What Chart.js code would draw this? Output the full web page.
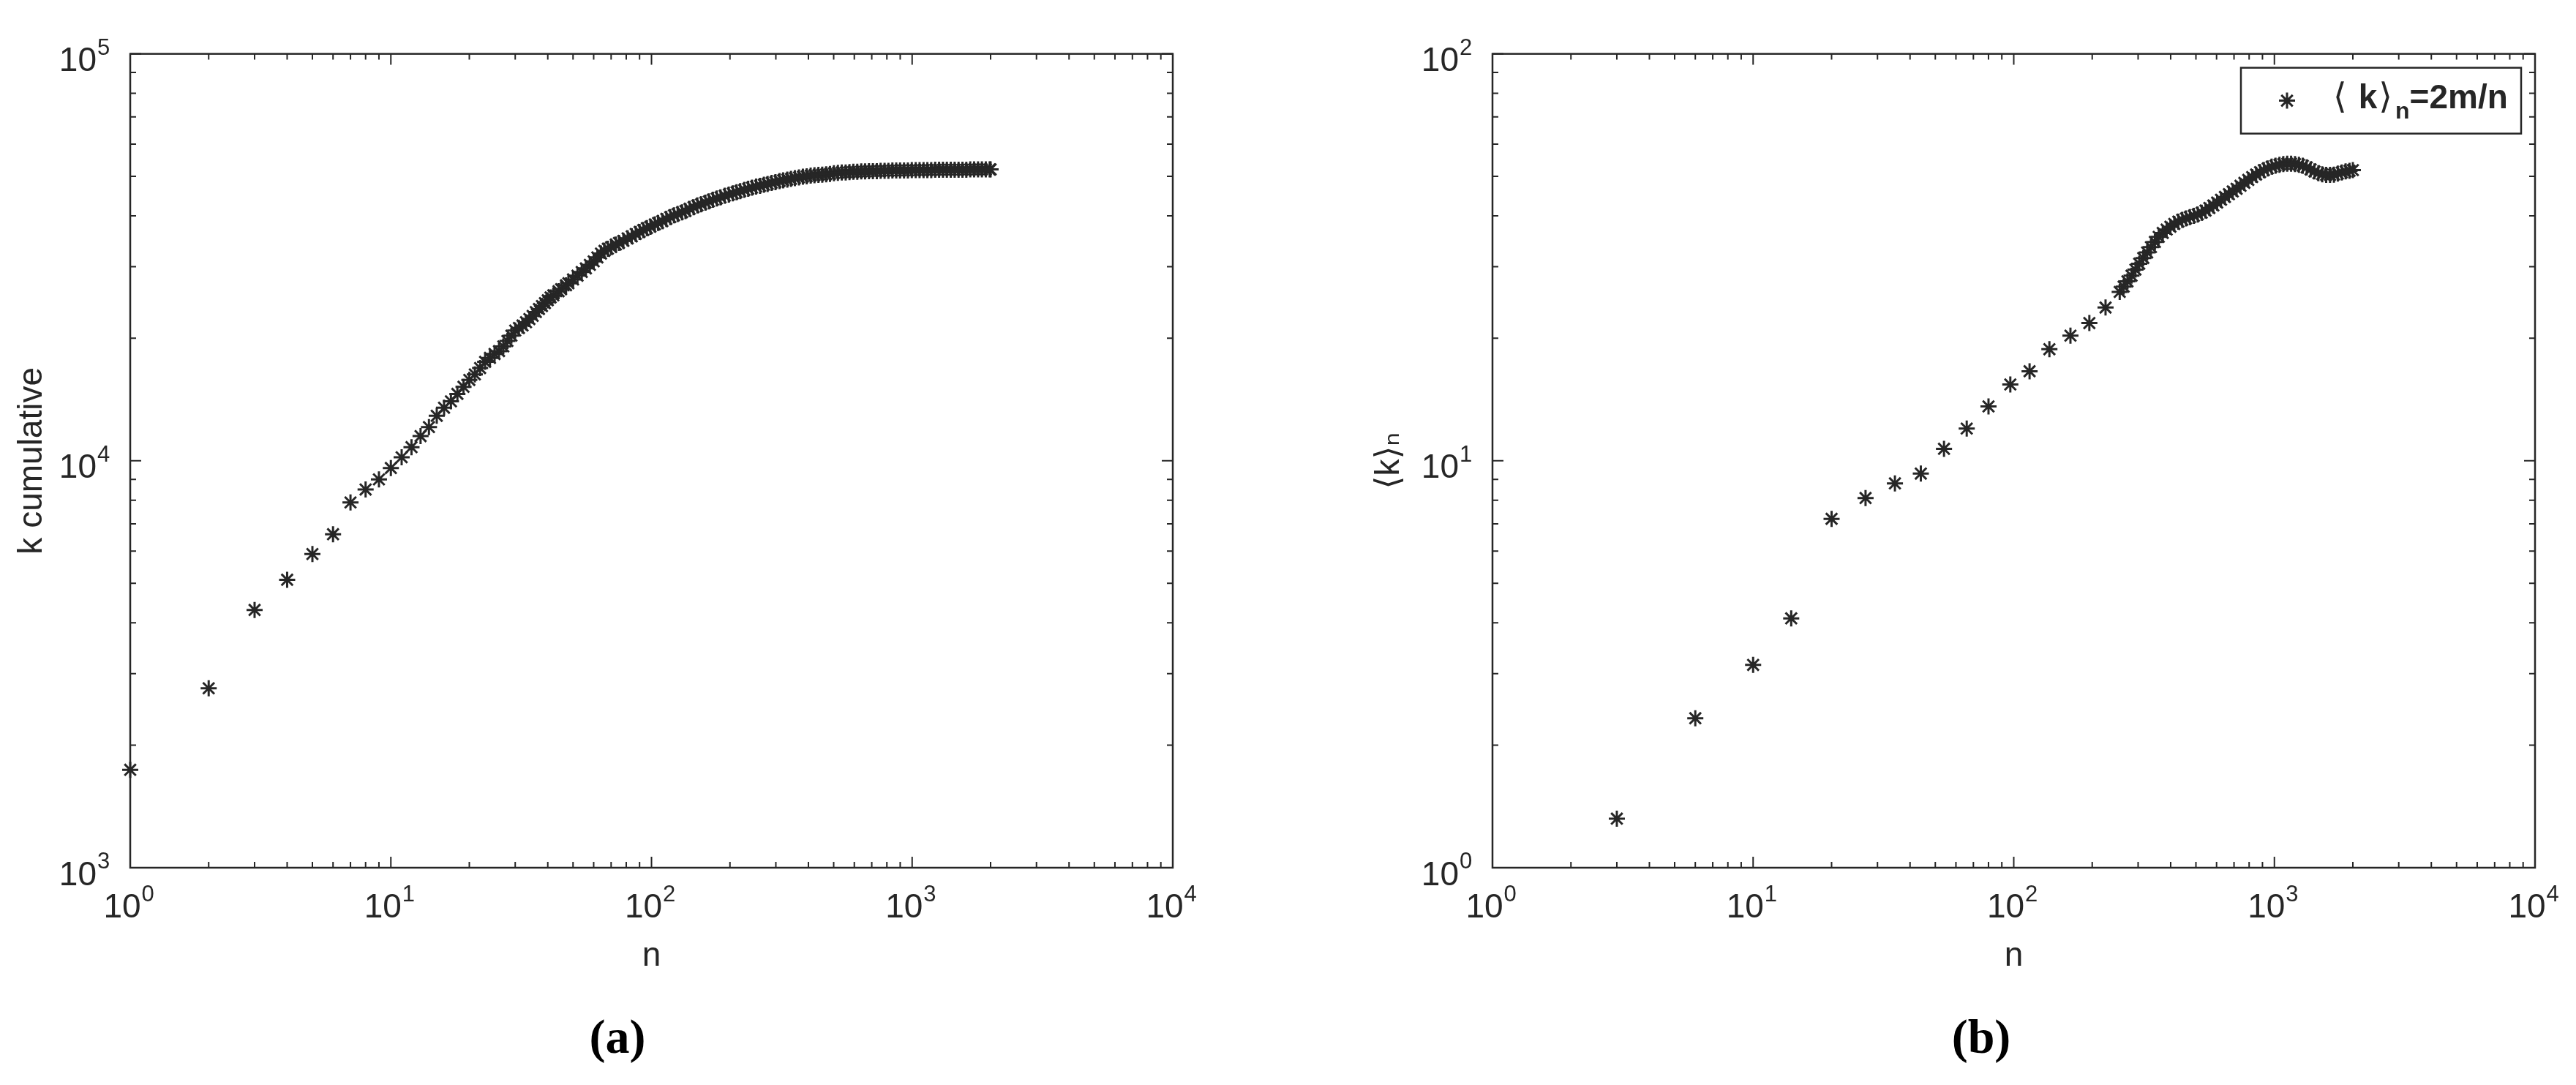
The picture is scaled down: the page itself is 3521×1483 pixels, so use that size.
<!DOCTYPE html>
<html>
<head>
<meta charset="utf-8">
<script src="https://cdn.jsdelivr.net/npm/chart.js@4.4.1/dist/chart.umd.min.js"></script>
<style>
  body { margin: 0; background: #fff; width: 3521px; height: 1483px; position: relative; overflow: hidden; }
  #wrapA { position: absolute; left: 0; top: 0; width: 1780px; height: 1483px; }
  #wrapB { position: absolute; left: 1780px; top: 0; width: 1741px; height: 1483px; }
  .panel { position: absolute; top: 1384px; font: bold 66px "Liberation Serif", serif; line-height: 66px; color: #000; transform: translateX(-50%); }
</style>
</head>
<body>
<div id="wrapA"><canvas id="cumChart" width="1780" height="1483"></canvas></div>
<div id="wrapB"><canvas id="avgChart" width="1741" height="1483"></canvas></div>
<div class="panel" style="left: 844px;">(a)</div>
<div class="panel" style="left: 2708px;">(b)</div>
<script>
// panel (a): cumulative k against n
const nCum = [1, 2, 3, 4, 5, 6, 7, 8, 9, 10, 11, 12, 13, 14, 15, 16, 17, 18, 19, 20,
  21, 22, 23, 24, 25, 26, 27, 28, 29, 30, 31, 32, 33, 34, 35, 36, 37, 38, 39, 40,
  41, 42, 44, 45, 47, 48, 50, 52, 54, 56, 58, 60, 62, 64, 66, 68, 70, 73, 75, 78,
  81, 84, 87, 90, 93, 96, 99, 103, 106, 110, 114, 118, 122, 126, 131, 135, 140, 145, 150, 155,
  161, 166, 172, 178, 184, 191, 198, 205, 212, 219, 227, 235, 243, 252, 261, 270, 279, 289, 299, 310,
  320, 332, 343, 355, 368, 381, 394, 408, 422, 437, 452, 468, 484, 501, 519, 537, 556, 575, 595, 616,
  638, 660, 683, 707, 732, 757, 784, 811, 840, 869, 899, 931, 963, 997, 1032, 1068, 1106, 1144, 1184, 1226,
  1269, 1313, 1359, 1407, 1456, 1507, 1560, 1614, 1671, 1729, 1790, 1852, 1917, 1984, 2000];
const kCum = [1740, 2760, 4300, 5100, 5900, 6600, 7900, 8500, 9000, 9600, 10200, 10800, 11500, 12100, 12900, 13500, 14000, 14600, 15200, 15800,
  16300, 16900, 17500, 17900, 18300, 18600, 19100, 19700, 20300, 20900, 21200, 21500, 21900, 22300, 22700, 23200, 23600, 24000, 24400, 24800,
  25200, 25500, 26100, 26400, 27000, 27300, 27900, 28500, 29100, 29700, 30300, 30900, 31600, 32300, 32800, 33200, 33500, 34000, 34300, 34700,
  35200, 35600, 36100, 36500, 36900, 37300, 37600, 38100, 38400, 38800, 39300, 39700, 40100, 40400, 40800, 41100, 41600, 42000, 42400, 42700,
  43100, 43400, 43800, 44100, 44400, 44800, 45100, 45400, 45700, 46000, 46300, 46600, 46900, 47200, 47400, 47700, 47900, 48200, 48400, 48700,
  48900, 49100, 49300, 49500, 49700, 49900, 50000, 50200, 50300, 50400, 50500, 50600, 50700, 50900, 51000, 51100, 51100, 51200, 51300, 51300,
  51400, 51400, 51500, 51500, 51500, 51600, 51600, 51600, 51700, 51700, 51700, 51700, 51700, 51800, 51800, 51800, 51800, 51800, 51800, 51900,
  51900, 51900, 51900, 51900, 51900, 51900, 51900, 51900, 52000, 52000, 52000, 52000, 52000, 52000, 52000];

// panel (b): <k>_n = 2m/n
const nAvg = [3, 6, 10, 14, 20, 27, 35, 44, 54, 66, 80, 97, 115, 137, 165, 195, 225,
  255, 264, 273, 283, 293, 303, 314, 325, 336, 348, 360, 373, 386, 399, 413, 428, 443, 458, 474, 491,
  508, 526, 544, 563, 583, 603, 624, 646, 669, 692, 716, 741, 767, 794, 822, 851, 881, 911, 943, 976,
  1010, 1046, 1082, 1120, 1159, 1200, 1242, 1285, 1330, 1377, 1425, 1475, 1526, 1580, 1635, 1692, 1751, 1813, 1876, 1942, 2000];
const kAvg = [1.32, 2.33, 3.15, 4.1, 7.2, 8.1, 8.8, 9.3, 10.7, 12.0, 13.6, 15.4, 16.6, 18.8, 20.3, 21.8, 23.8,
  26.0, 26.8, 27.6, 28.5, 29.5, 30.5, 31.5, 32.5, 33.5, 34.5, 35.5, 36.3, 37.0, 37.6, 38.2, 38.7, 39.1, 39.4, 39.7, 40.0,
  40.3, 40.7, 41.2, 41.8, 42.4, 43.1, 43.8, 44.5, 45.2, 45.9, 46.6, 47.4, 48.2, 49.0, 49.8, 50.5, 51.2, 51.8, 52.3, 52.8,
  53.1, 53.4, 53.6, 53.7, 53.7, 53.6, 53.4, 53.1, 52.6, 52.0, 51.4, 50.9, 50.6, 50.4, 50.4, 50.5, 50.8, 51.1, 51.4, 51.6, 51.8];

// decade tick labels
const xDecades = [1, 10, 100, 1000, 10000];
const yDecadesCum = [1000, 10000, 100000];
const yDecadesAvg = [1, 10, 100];

const ink = '#262626';
const fontFamily = '"Liberation Sans", "DejaVu Sans", Arial, sans-serif';
Chart.defaults.color = ink;
Chart.defaults.font.family = fontFamily;

const TICK_SIZE = 46;
const EXP_SIZE = 31;
const X_TICK_PAD = 28;
const Y_TICK_PAD = 46;

// majors at each decade, minors at 2..9 times it
function logTicks(decades) {
  const ticks = [];
  decades.forEach((d, i) => {
    ticks.push({ value: d, major: true });
    if (i < decades.length - 1) {
      for (let m = 2; m <= 9; m++) ticks.push({ value: d * m, major: false });
    }
  });
  return ticks;
}

// box round the plot and inward ticks on all four sides, like matlab
const matlabAxes = {
  id: 'matlabAxes',
  beforeDatasetsDraw(chart) {
    const { ctx, chartArea: a, scales: { x, y } } = chart;
    ctx.save();
    ctx.strokeStyle = ink;
    ctx.lineWidth = 2;
    ctx.beginPath();
    x.ticks.forEach(t => {
      const px = x.getPixelForValue(t.value);
      const len = t.major ? 15 : 8;
      ctx.moveTo(px, a.bottom); ctx.lineTo(px, a.bottom - len);
      ctx.moveTo(px, a.top); ctx.lineTo(px, a.top + len);
    });
    y.ticks.forEach(t => {
      const py = y.getPixelForValue(t.value);
      const len = t.major ? 15 : 8;
      ctx.moveTo(a.left, py); ctx.lineTo(a.left + len, py);
      ctx.moveTo(a.right, py); ctx.lineTo(a.right - len, py);
    });
    ctx.stroke();
    ctx.lineWidth = 2.5;
    ctx.strokeRect(a.left, a.top, a.right - a.left, a.bottom - a.top);
    ctx.restore();
  },
  // raised exponents after the "10" of each decade label
  afterDraw(chart) {
    const { ctx, chartArea: a, scales: { x, y } } = chart;
    ctx.save();
    ctx.fillStyle = ink;
    ctx.textAlign = 'left';
    ctx.textBaseline = 'alphabetic';
    ctx.font = TICK_SIZE + 'px ' + fontFamily;
    const w10 = ctx.measureText('10').width;
    ctx.font = EXP_SIZE + 'px ' + fontFamily;
    const xMid = a.bottom + X_TICK_PAD + TICK_SIZE * 0.6;
    x.ticks.filter(t => t.major).forEach(t => {
      const px = x.getPixelForValue(t.value) - 11;
      ctx.fillText(String(Math.round(Math.log10(t.value))), px + w10 / 2 + 1, xMid - 10);
    });
    y.ticks.filter(t => t.major).forEach(t => {
      const py = y.getPixelForValue(t.value) + 11;
      ctx.fillText(String(Math.round(Math.log10(t.value))), a.left - Y_TICK_PAD + 1, py - 10);
    });
    ctx.restore();
  }
};

// boxed legend in the upper right corner
const boxLegend = {
  id: 'boxLegend',
  afterDatasetsDraw(chart, args, opts) {
    if (!opts.show) return;
    const { ctx, chartArea: a } = chart;
    const w = 383, h = 90;
    const x0 = a.right - 19 - w, y0 = a.top + 19;
    ctx.save();
    ctx.fillStyle = '#fff';
    ctx.fillRect(x0, y0, w, h);
    ctx.strokeStyle = ink;
    ctx.lineWidth = 2.5;
    ctx.strokeRect(x0, y0, w, h);
    ctx.lineWidth = 3;
    Chart.helpers.drawPoint(ctx, { pointStyle: 'star', radius: 11, borderWidth: 3 }, x0 + 63, y0 + h / 2);
    ctx.fillStyle = ink;
    ctx.textBaseline = 'alphabetic';
    let tx = x0 + 126;
    const base = y0 + 55;
    opts.parts.forEach(p => {
      ctx.font = p.font;
      ctx.fillText(p.text, tx, base + (p.dy || 0));
      tx += ctx.measureText(p.text).width + (p.gap || 0);
    });
    ctx.restore();
  }
};

function starSet(label, xs, ys) {
  return {
    label: label,
    data: xs.map((v, i) => ({ x: v, y: ys[i] })),
    showLine: false,
    pointStyle: 'star',
    pointRadius: 11,
    pointHoverRadius: 11,
    pointBorderWidth: 3,
    borderColor: ink,
    backgroundColor: ink,
    clip: false
  };
}

function logAxes(yMin, yMax, yDecades, yTitle, yAxisWidth, yTitlePad) {
  return {
    x: {
      type: 'logarithmic',
      min: 1,
      max: 10000,
      afterBuildTicks: (s) => { s.ticks = logTicks(xDecades); },
      afterFit: (s) => { s.height = 297; },
      grid: { display: false, drawTicks: false },
      border: { display: false },
      ticks: {
        autoSkip: false,
        maxRotation: 0,
        padding: X_TICK_PAD,
        labelOffset: -11,
        font: { size: TICK_SIZE },
        callback: (v, i, ticks) => ticks[i].major ? '10' : ''
      },
      title: { display: true, text: 'n', font: { size: 46 }, padding: { top: 0, bottom: 148 } }
    },
    y: {
      type: 'logarithmic',
      min: yMin,
      max: yMax,
      afterBuildTicks: (s) => { s.ticks = logTicks(yDecades); },
      afterFit: (s) => { s.width = yAxisWidth; },
      grid: { display: false, drawTicks: false },
      border: { display: false },
      ticks: {
        autoSkip: false,
        padding: Y_TICK_PAD,
        labelOffset: 11,
        font: { size: TICK_SIZE },
        callback: (v, i, ticks) => ticks[i].major ? '10' : ''
      },
      title: { display: true, text: yTitle, font: { size: 46 }, padding: { top: yTitlePad, bottom: 0 } }
    }
  };
}

new Chart(document.getElementById('cumChart'), {
  type: 'scatter',
  data: { datasets: [starSet('k cumulative', nCum, kCum)] },
  options: {
    responsive: false,
    animation: false,
    layout: { padding: { top: 61, right: 177, bottom: 0, left: 0 } },
    plugins: { legend: { display: false }, tooltip: { enabled: false }, boxLegend: { show: false } },
    scales: logAxes(1000, 100000, yDecadesCum, 'k cumulative', 178, 17)
  },
  plugins: [matlabAxes, boxLegend]
});

new Chart(document.getElementById('avgChart'), {
  type: 'scatter',
  data: { datasets: [starSet('⟨k⟩n=2m/n', nAvg, kAvg)] },
  options: {
    responsive: false,
    animation: false,
    layout: { padding: { top: 61, right: 56, bottom: 0, left: 0 } },
    plugins: {
      legend: { display: false },
      tooltip: { enabled: false },
      boxLegend: {
        show: true,
        parts: [
          { text: '⟨', font: '48px "DejaVu Sans", sans-serif', gap: 16 },
          { text: 'k', font: 'bold 46px ' + fontFamily, gap: 2 },
          { text: '⟩', font: '48px "DejaVu Sans", sans-serif', gap: 4 },
          { text: 'n', font: 'bold 32px ' + fontFamily, dy: 14 },
          { text: '=2m/n', font: 'bold 46px ' + fontFamily }
        ]
      }
    },
    scales: logAxes(1, 100, yDecadesAvg, '⟨k⟩ₙ', 260, 92)
  },
  plugins: [matlabAxes, boxLegend]
});
</script>
</body>
</html>
